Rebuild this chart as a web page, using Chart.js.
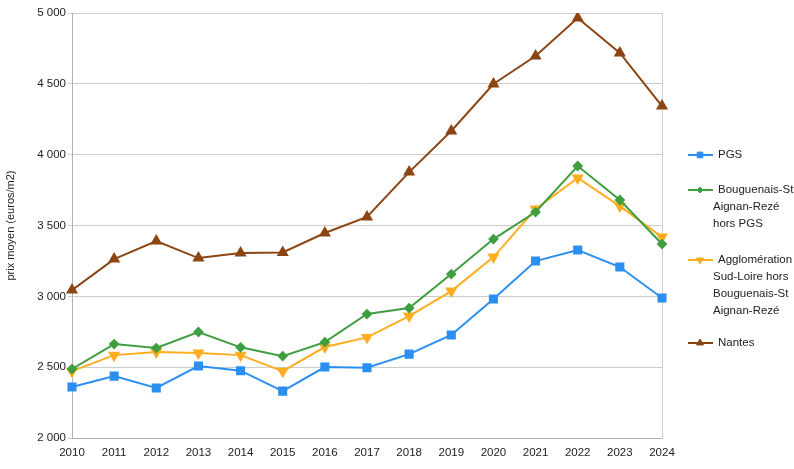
<!DOCTYPE html>
<html>
<head>
<meta charset="utf-8">
<script src="https://cdn.jsdelivr.net/npm/chart.js@4"></script>
<style>
  html, body { margin: 0; padding: 0; background: #fff; }
  #wrap { width: 794px; height: 469px; position: relative; }
</style>
</head>
<body>
<div id="wrap"><canvas id="myChart"></canvas></div>
<script>
// Data
const years = ["2010", "2011", "2012", "2013", "2014", "2015", "2016", "2017",
               "2018", "2019", "2020", "2021", "2022", "2023", "2024"];
const pgs = [2360, 2437, 2353, 2508, 2475, 2331, 2501, 2496, 2592, 2727, 2981, 3249, 3327, 3207, 2988];
const bouguenais = [2487, 2663, 2635, 2748, 2640, 2578, 2677, 2875, 2917, 3157, 3404, 3595, 3920, 3680, 3369];
const agglo = [2472, 2585, 2607, 2600, 2585, 2472, 2642, 2710, 2861, 3037, 3277, 3616, 3835, 3637, 3418];
const nantes = [3044, 3263, 3390, 3270, 3306, 3310, 3447, 3560, 3877, 4167, 4499, 4696, 4965, 4718, 4343];

const seriesLabels = [
    ["PGS"],
    ["Bouguenais-St", "Aignan-Rezé", "hors PGS"],
    ["Agglomération", "Sud-Loire hors", "Bouguenais-St", "Aignan-Rezé"],
    ["Nantes"]
];

const FONT = "'Liberation Sans', Arial, sans-serif";

// legend on the right, drawn by hand because of the multi-line labels
const sideLegend = {
    id: "sideLegend",
    afterDraw(chart) {
        const ctx = chart.ctx;
        const rows = [155, 190, 260, 343];
        ctx.save();
        chart.data.datasets.forEach((ds, i) => {
            const y = rows[i];
            ctx.strokeStyle = ds.borderColor;
            ctx.fillStyle = ds.borderColor;
            ctx.lineWidth = 2;
            ctx.beginPath();
            ctx.moveTo(688, y);
            ctx.lineTo(713, y);
            ctx.stroke();
            ctx.lineWidth = 1;
            Chart.helpers.drawPoint(ctx, {
                pointStyle: ds.pointStyle,
                radius: ds.pointRadius - 1,
                rotation: ds.pointRotation || 0,
                borderWidth: 1
            }, 700, y);
            ctx.fillStyle = "#222";
            ctx.font = "11.5px " + FONT;
            ctx.textBaseline = "middle";
            seriesLabels[i].forEach((line, j) => {
                ctx.fillText(line, j === 0 ? 718 : 713, y + j * 17);
            });
        });
        ctx.restore();
    }
};

function makeSet(label, data, color, style, radius, rot) {
    return {
        label: label,
        data: data,
        borderColor: color,
        backgroundColor: color,
        pointBackgroundColor: color,
        pointBorderColor: color,
        borderWidth: 2,
        pointStyle: style,
        pointRadius: radius,
        pointHoverRadius: radius,
        pointRotation: rot,
        tension: 0
    };
}

const canvas = document.getElementById("myChart");
new Chart(canvas, {
    type: "line",
    data: {
        labels: years,
        datasets: [
            makeSet("PGS", pgs, "#2a8ff0", "rect", 5, 0),
            makeSet("Bouguenais-St Aignan-Rezé hors PGS", bouguenais, "#3f9e3f", "rectRot", 4, 0),
            makeSet("Agglomération Sud-Loire hors Bouguenais-St Aignan-Rezé", agglo, "#ffad1f", "triangle", 5, 180),
            makeSet("Nantes", nantes, "#8b4513", "triangle", 5, 0)
        ]
    },
    options: {
        responsive: true,
        maintainAspectRatio: false,
        animation: false,
        layout: { padding: { top: 13, right: 132, left: 4, bottom: 0 } },
        plugins: {
            legend: { display: false },
            tooltip: { enabled: false }
        },
        scales: {
            x: {
                offset: false,
                grid: { display: false, drawTicks: true, tickLength: 4 },
                border: { color: "#b3b3b3" },
                ticks: { color: "#222", font: { family: FONT, size: 11.5 }, maxRotation: 0, autoSkip: false, padding: 4 },
                afterFit(scale) { scale.height = 31; }
            },
            y: {
                min: 2000,
                max: 5000,
                grid: { color: "#cccccc", tickLength: 4 },
                border: { color: "#b3b3b3" },
                ticks: {
                    stepSize: 500,
                    color: "#222",
                    font: { family: FONT, size: 11.5 },
                    padding: 2,
                    callback: v => String(v).replace(/\B(?=(\d{3})+(?!\d))/g, " ")
                },
                title: {
                    display: true,
                    text: "prix moyen (euros/m2)",
                    color: "#222",
                    font: { family: FONT, size: 11 },
                    padding: { top: 0, bottom: 0 }
                },
                afterFit(scale) { scale.width = 68; }
            },
            y2: {
                position: "right",
                min: 2000,
                max: 5000,
                grid: { display: false },
                border: { color: "#cccccc" },
                ticks: { display: false },
                afterFit(scale) { scale.width = 0; }
            }
        }
    },
    plugins: [sideLegend]
});
</script>
</body>
</html>
